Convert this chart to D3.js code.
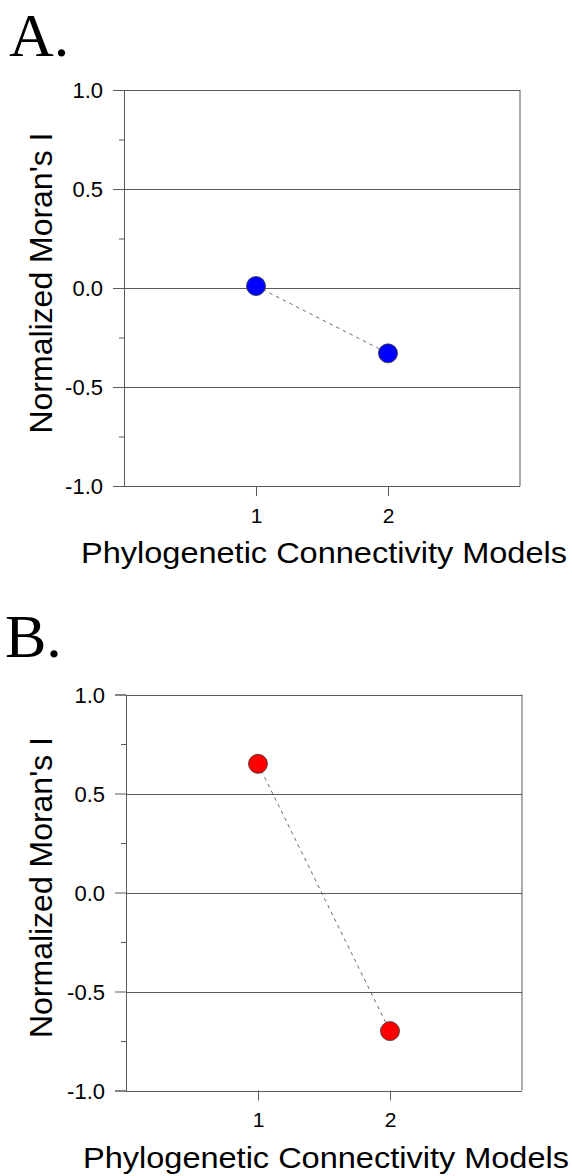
<!DOCTYPE html>
<html><head><meta charset="utf-8">
<script src="https://cdn.jsdelivr.net/npm/d3@7/dist/d3.min.js"></script>
<style>html,body{margin:0;padding:0;background:#fff;}svg{display:block;}</style>
</head><body>
<script>
const models = [1, 2];
const seriesA = [0.01, -0.33];
const seriesB = [0.65, -0.70];
const yTicks = [-1.0, -0.5, 0.0, 0.5, 1.0];
const yMinor = [-0.75, -0.25, 0.25, 0.75];
const panelLabels = ["A.", "B."];
const xTitle = "Phylogenetic Connectivity Models";
const yTitle = "Normalized Moran's I";

const W = 572, H = 1176;
const svg = d3.select("body").append("svg").attr("width", W).attr("height", H);
const font = "'Liberation Sans', Arial, Helvetica, sans-serif";

function panel(cfg) {
  const x = d3.scaleLinear().domain([0, 3]).range([cfg.left, cfg.left + 396]);
  const y = d3.scaleLinear().domain([-1, 1]).range([cfg.top + 396, cfg.top]);
  const g = svg.append("g");
  const stroke = "#5a5a5a";

  // panel letter
  g.append("text").attr("x", cfg.labX).attr("y", cfg.labY)
    .attr("font-family", "'Liberation Serif', 'Times New Roman', serif")
    .attr("font-size", 62).attr("fill", "#000").text(cfg.label);

  // y axis
  const yAxis = d3.axisLeft(y).tickValues(yTicks).tickSize(11).tickFormat(d => d.toFixed(1));
  const ya = g.append("g").attr("transform", `translate(${cfg.left},0)`).call(yAxis);
  ya.select(".domain").attr("stroke", stroke);
  ya.selectAll(".tick line").attr("stroke", stroke);
  ya.selectAll(".tick text").attr("font-family", font).attr("font-size", 22)
    .attr("fill", "#000").attr("x", -21).attr("dy", "0.36em");

  // minor ticks
  const yMinorAxis = d3.axisLeft(y).tickValues(yMinor).tickSize(5).tickFormat("");
  const ym = g.append("g").attr("transform", `translate(${cfg.left},0)`).call(yMinorAxis);
  ym.select(".domain").remove();
  ym.selectAll(".tick line").attr("stroke", stroke);

  // horizontal gridlines across plot
  g.append("g").selectAll("line").data(yTicks).join("line")
    .attr("x1", x(0)).attr("x2", x(3))
    .attr("y1", d => Math.round(y(d)) + 0.5).attr("y2", d => Math.round(y(d)) + 0.5)
    .attr("stroke", stroke).attr("stroke-width", 1);

  // right border
  g.append("line").attr("x1", x(3)).attr("x2", x(3)).attr("y1", y(1)).attr("y2", y(-1))
    .attr("stroke", stroke);

  // x axis
  const xAxis = d3.axisBottom(x).tickValues(models).tickSize(10).tickFormat(d3.format("d"));
  const xa = g.append("g").attr("transform", `translate(0,${y(-1)})`).call(xAxis);
  xa.select(".domain").remove();
  xa.selectAll(".tick line").attr("stroke", stroke);
  xa.selectAll(".tick text").attr("font-family", font).attr("font-size", 21)
    .attr("fill", "#000").attr("y", 22).attr("dy", "0.71em");

  // x title
  g.append("text").attr("x", x(1.5) + 2).attr("y", cfg.xTitleY)
    .attr("text-anchor", "middle").attr("font-family", font).attr("font-size", 29)
    .attr("textLength", 486).attr("lengthAdjust", "spacingAndGlyphs")
    .attr("fill", "#000").text(xTitle);

  // y title
  g.append("text").attr("transform", `translate(${cfg.yTitleX},${y(0) - 5}) rotate(-90)`)
    .attr("text-anchor", "middle").attr("font-family", font).attr("font-size", 32)
    .attr("textLength", 301).attr("lengthAdjust", "spacingAndGlyphs")
    .attr("fill", "#000").text(yTitle);

  // dashed connecting line
  const line = d3.line().x((d, i) => x(models[i])).y(d => y(d));
  g.append("path").datum(cfg.values).attr("d", line)
    .attr("fill", "none").attr("stroke", "#444").attr("stroke-width", 0.8)
    .attr("stroke-dasharray", "3.5,4");

  // points
  g.append("g").selectAll("circle").data(cfg.values).join("circle")
    .attr("cx", (d, i) => x(models[i])).attr("cy", d => y(d)).attr("r", 9.5)
    .attr("fill", cfg.color).attr("stroke", "#333").attr("stroke-width", 0.8);
}

panel({ left: 124, top: 90, values: seriesA, color: "#0000ff", label: panelLabels[0],
        labX: 9, labY: 56, xTitleY: 563, yTitleX: 52 });
panel({ left: 126, top: 694.5, values: seriesB, color: "#ff0000", label: panelLabels[1],
        labX: 5, labY: 657, xTitleY: 1168, yTitleX: 52 });
</script>
</body></html>
